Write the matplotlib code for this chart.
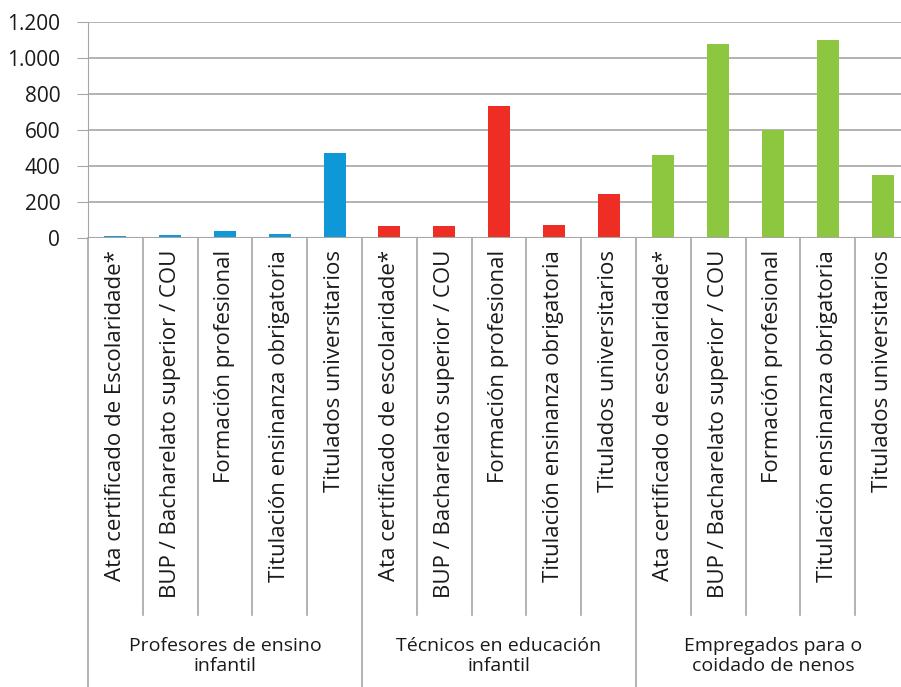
import matplotlib
matplotlib.use("Agg")
import matplotlib.pyplot as plt
import matplotlib.transforms as mtransforms
from matplotlib.ticker import FuncFormatter

plt.rcParams['font.family'] = ['Open Sans', 'DejaVu Sans']

categories = ["Ata certificado de Escolaridade*", "BUP / Bacharelato superior / COU",
              "Formación profesional", "Titulación ensinanza obrigatoria", "Titulados universitarios",
              "Ata certificado de escolaridade*", "BUP / Bacharelato superior / COU",
              "Formación profesional", "Titulación ensinanza obrigatoria", "Titulados universitarios",
              "Ata certificado de escolaridade*", "BUP / Bacharelato superior / COU",
              "Formación profesional", "Titulación ensinanza obrigatoria", "Titulados universitarios"]
groups = ["Profesores de ensino\ninfantil", "Técnicos en educación\ninfantil",
          "Empregados para o\ncoidado de nenos"]
values_profesores = [11, 17, 39, 22, 470]
values_tecnicos = [65, 65, 732, 70, 243]
values_empregados = [461, 1078, 600, 1100, 350]
group_colors = ["#0f98d8", "#ee2e24", "#8dc63f"]
yticks = [0, 200, 400, 600, 800, 1000, 1200]

W, H = 901, 687
fig = plt.figure(figsize=(W / 100, H / 100), dpi=100)
left_px, right_px, top_px, zero_px = 88, 910, 22, 238
ax = fig.add_axes([left_px / W, (H - zero_px) / H, (right_px - left_px) / W, (zero_px - top_px) / H])

all_vals = [values_profesores, values_tecnicos, values_empregados]
x = 0
for g, vals in enumerate(all_vals):
    xs = list(range(x, x + len(vals)))
    ax.bar(xs, vals, width=0.4, color=group_colors[g], zorder=3)
    x += len(vals)

n = len(categories)
ax.set_xlim(-0.5, n - 0.5)
ax.set_ylim(0, 1200)
ax.set_yticks(yticks)
ax.yaxis.set_major_formatter(FuncFormatter(lambda v, p: f"{int(v):,}".replace(",", ".")))
ax.tick_params(axis='y', length=8, color='#a6a6a6', labelsize=15, pad=12, labelcolor='#1a1a1a')
ax.set_xticks([])
ax.grid(axis='y', color='#a6a6a6', linewidth=1.2, zorder=0)
for s in ['top', 'right', 'bottom']:
    ax.spines[s].set_visible(False)
ax.spines['left'].set_color('#a6a6a6')
ax.axhline(0, color='#a6a6a6', linewidth=1.5, zorder=4)

ph = zero_px - top_px
trans = mtransforms.blended_transform_factory(ax.transData, ax.transAxes)
inner_bottom = -(615 - zero_px) / ph
outer_bottom = -(H - zero_px) / ph - 0.05
for b in range(n + 1):
    xb = b - 0.5
    y1 = outer_bottom if b % 5 == 0 else inner_bottom
    ax.plot([xb, xb], [0, y1], transform=trans, color='#a6a6a6', lw=1.2, clip_on=False)

for i, c in enumerate(categories):
    ax.text(i, -(250 - zero_px) / ph, c, transform=trans, rotation=90, ha='center', va='top',
            fontsize=16, color='#1a1a1a')

for g, name in enumerate(groups):
    ax.text(g * 5 + 2, -(656 - zero_px) / ph, name, transform=trans, ha='center', va='center',
            fontsize=14, color='#1a1a1a', linespacing=1.12)

fig.savefig("out.png", dpi=100)
